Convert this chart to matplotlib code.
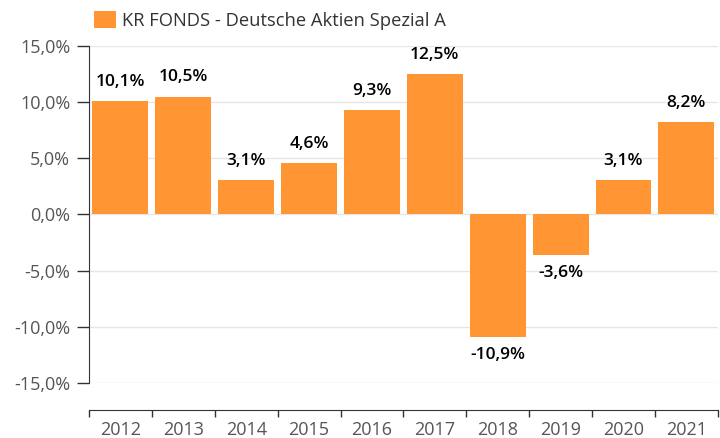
import numpy as np
import matplotlib.pyplot as plt
from matplotlib.ticker import FuncFormatter, FixedLocator

years = ['2012', '2013', '2014', '2015', '2016', '2017', '2018', '2019', '2020', '2021']
returns = [10.1, 10.5, 3.1, 4.6, 9.3, 12.5, -10.9, -3.6, 3.1, 8.2]
series_name = 'KR FONDS - Deutsche Aktien Spezial A'

plt.rcParams['font.family'] = ['Open Sans', 'DejaVu Sans']

fig = plt.figure(figsize=(7.2, 4.38), dpi=100)
ax = fig.add_axes([0.1236, 0.1256, 0.8734, 0.7694])

x = np.arange(len(years))
bars = ax.bar(x, returns, width=0.89, color='#FF9533', label=series_name, zorder=3)

ax.set_ylim(-15, 15)
ax.set_xlim(-0.5, len(years) - 0.5)
ax.set_yticks(np.arange(-15, 16, 5))
ax.yaxis.set_major_formatter(FuncFormatter(lambda v, p: f'{v:.1f}%'.replace('.', ',')))
ax.grid(axis='y', color='#e6e6e6', linewidth=1, zorder=0)

ax.xaxis.set_major_locator(FixedLocator(np.arange(-0.5, len(years), 1)))
ax.xaxis.set_major_formatter(FuncFormatter(lambda v, p: ''))
ax.set_xticks(x, years, minor=True)
ax.tick_params(axis='x', which='major', length=5, width=1, color='#333333', direction='out')
ax.tick_params(axis='x', which='minor', length=0, pad=8, labelsize=13, labelcolor='#555555')
ax.tick_params(axis='y', length=8.5, width=1, color='#333333', pad=5, labelsize=13, labelcolor='#555555')

for s in ['top', 'right']:
    ax.spines[s].set_visible(False)
ax.spines['left'].set_color('#333333')
ax.spines['bottom'].set_color('#333333')
ax.spines['bottom'].set_position(('outward', 19.4))

for b, v in zip(bars, returns):
    label = f'{v:.1f}%'.replace('.', ',')
    off, va = (8, 'bottom') if v >= 0 else (-7, 'top')
    ax.annotate(label, (b.get_x() + b.get_width() / 2, v), xytext=(0, off),
                textcoords='offset points', ha='center', va=va,
                fontsize=12.5, fontweight='semibold', color='black')

ax.legend(loc='lower left', bbox_to_anchor=(-0.004, 1.025), frameon=False,
          handlelength=1.2, handleheight=1.05, handletextpad=0.35,
          borderaxespad=0, fontsize=13.2, labelcolor='#333333')

fig.savefig('out.png', dpi=100)
